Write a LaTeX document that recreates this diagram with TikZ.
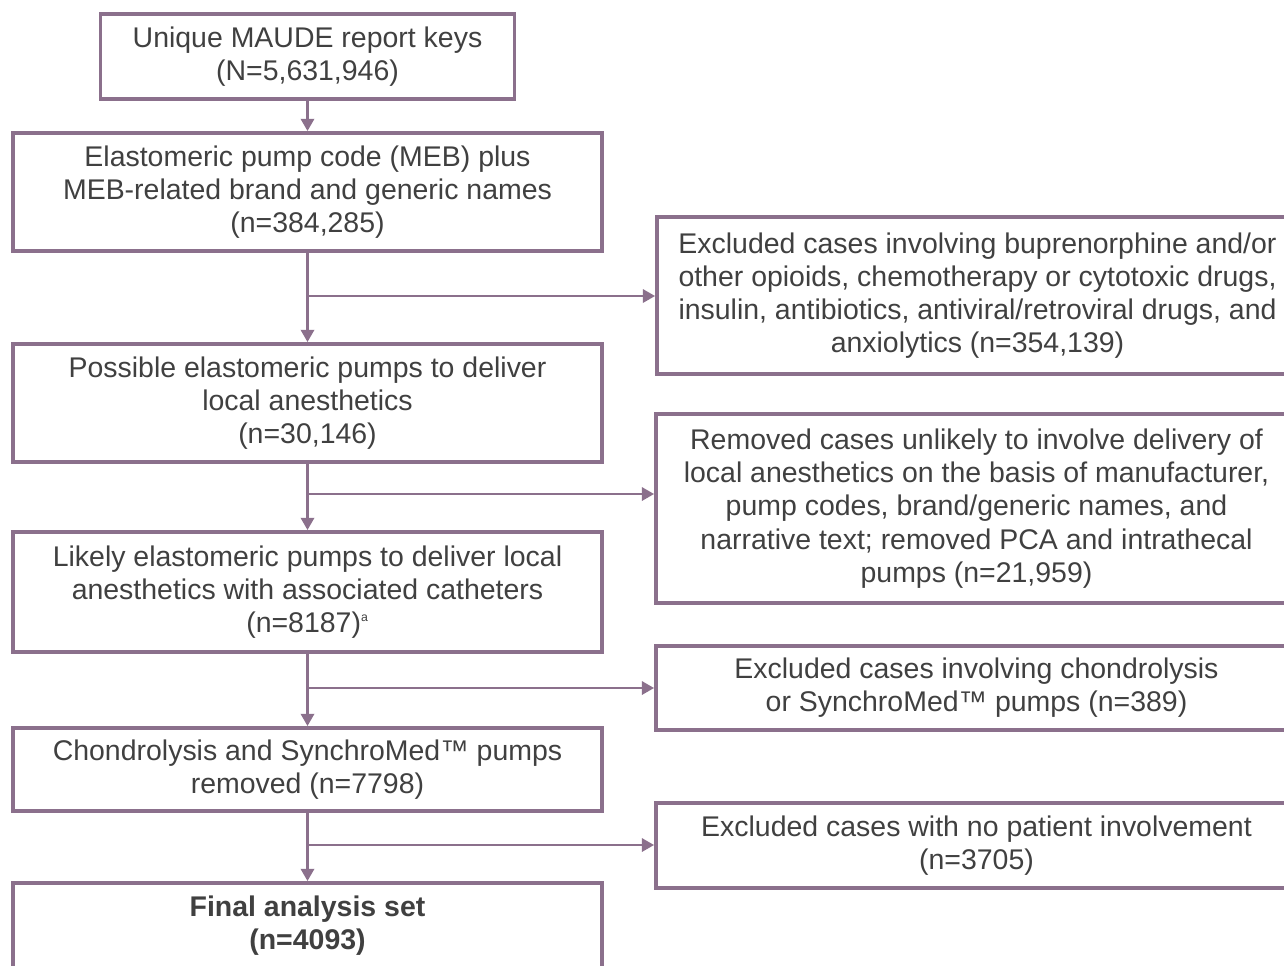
\documentclass[tikz,border=0pt]{standalone}
\usepackage{fontspec}
\setmainfont{Liberation Sans}
\usetikzlibrary{arrows.meta}
\definecolor{boxline}{RGB}{139,112,140}
\definecolor{boxtext}{RGB}{64,64,64}

\begin{document}
\begin{tikzpicture}[x=0.02cm,y=-0.02cm,>={Triangle[length=7pt,width=7.5pt]},
                flow node/.style={rectangle,draw=boxline,line width=2.2pt,text=boxtext,
                  align=center,inner sep=0pt,font=\fontsize{16.2}{18.9}\selectfont},
                main node/.style={flow node,minimum width=11.78cm},
                side node/.style={flow node,minimum width=12.82cm},
                flow/.style={draw=boxline,line width=1.6pt}]
                \useasboundingbox (0,0) rectangle (1284,965);
                \clip (0,0) rectangle (1284,965);

                \node[flow node,minimum width=8.28cm,minimum height=1.7cm] (keys) at (307.5,56.5)
                  {Unique MAUDE report keys\\(N=5,631,946)};
                \node[main node,minimum height=2.36cm] (meb) at (307.5,192)
                  {Elastomeric pump code (MEB) plus\\MEB-related brand and generic names\\(n=384,285)};
                \node[main node,minimum height=2.36cm] (possible) at (307.5,403)
                  {Possible elastomeric pumps to deliver\\local anesthetics\\(n=30,146)};
                \node[main node,minimum height=2.4cm] (likely) at (307.5,592)
                  {Likely elastomeric pumps to deliver local\\anesthetics with associated catheters\\(n=8187)\textsuperscript{\scriptsize a}};
                \node[main node,minimum height=1.66cm] (removed) at (307.5,769.5)
                  {Chondrolysis and SynchroMed™ pumps\\removed (n=7798)};
                \node[main node,minimum height=1.72cm,font=\fontsize{16.2}{18.9}\selectfont\bfseries] (final) at (307.5,926)
                  {Final analysis set\\(n=4093)};

                \node[side node,minimum height=3.14cm] (ex1) at (977.5,295.5)
                  {Excluded cases involving buprenorphine and/or\\other opioids, chemotherapy or cytotoxic drugs,\\insulin, antibiotics, antiviral/retroviral drugs, and\\anxiolytics (n=354,139)};
                \node[side node,minimum height=3.78cm] (ex2) at (976.5,508.5)
                  {Removed cases unlikely to involve delivery of\\local anesthetics on the basis of manufacturer,\\pump codes, brand/generic names, and\\narrative text; removed PCA and intrathecal\\pumps (n=21,959)};
                \node[side node,minimum height=1.68cm] (ex3) at (976.5,688)
                  {Excluded cases involving chondrolysis\\or SynchroMed™ pumps (n=389)};
                \node[side node,minimum height=1.7cm] (ex4) at (976.5,845.5)
                  {Excluded cases with no patient involvement\\(n=3705)};

                % branch points on the main line
                \coordinate (s1) at (307.5,296);
                \coordinate (s2) at (307.5,494);
                \coordinate (s3) at (307.5,688);
                \coordinate (s4) at (307.5,845);

                \draw[flow,->] (keys.south) -- (meb.north);
                \draw[flow,->] (meb.south) -- (possible.north);
                \draw[flow,->] (possible.south) -- (likely.north);
                \draw[flow,->] (likely.south) -- (removed.north);
                \draw[flow,->] (removed.south) -- (final.north);
                \draw[flow,->] (s1) -- (s1 -| ex1.west);
                \draw[flow,->] (s2) -- (s2 -| ex2.west);
                \draw[flow,->] (s3) -- (s3 -| ex3.west);
                \draw[flow,->] (s4) -- (s4 -| ex4.west);
\end{tikzpicture}
\end{document}
